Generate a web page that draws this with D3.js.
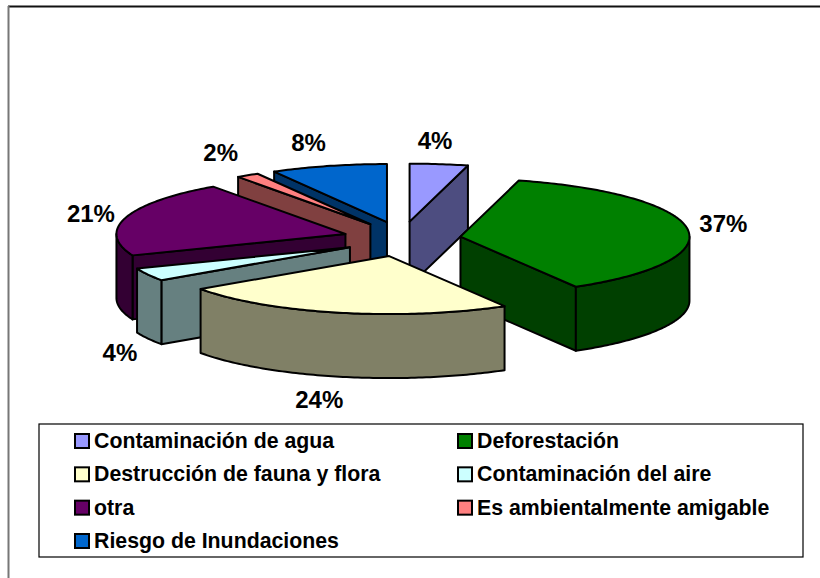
<!DOCTYPE html>
<html>
<head>
<meta charset="utf-8">
<title>Pie</title>
<style>
body { margin: 0; background: white; }
svg { display: block; }
text { font-family: "Liberation Sans", Arial, sans-serif; font-weight: 700; fill: black; }
.face { stroke: black; stroke-width: 2px; stroke-linejoin: round; }
.label { font-size: 24px; text-anchor: middle; dominant-baseline: central; }
.legend-text { font-size: 21.3px; dominant-baseline: central; }
</style>
</head>
<body>
<svg id="chart" width="820" height="578"></svg>
<script src="https://cdn.jsdelivr.net/npm/d3@7"></script>
<script>

var categories = ["Contaminación de agua", "Deforestación", "Destrucción de fauna y flora",
	"Contaminación del aire", "otra", "Es ambientalmente amigable", "Riesgo de Inundaciones"];
var shares = [4.1, 37.49, 23.8, 3.6, 21.2, 1.6, 8.2];
var topColors = ["#9999ff", "#008000", "#ffffcc", "#ccffff", "#660066", "#ff8080", "#0066cc"];

var width = 820, height = 578;
var center = {x: 402, y: 239};
var rx = 229, ry = 58, depth = 64;
var explodeX = 59, explodeY = 17.5;

// back to front, the way the slices overlap
var drawOrder = [0, 6, 5, 1, 4, 3, 2];
// label nudges from the rim of each slice, same order as categories
var labelNudge = [[-4, -24], [36, -5], [-20, 23], [-28, 14], [-35, -4], [-27, -23], [-20, -23]];

var svg = d3.select("#chart");

// the outer frame only shows on the top and the left
svg.append("line")
	.attr("x1", 8).attr("y1", 6.5).attr("x2", width).attr("y2", 6.5)
	.attr("stroke", "#111").attr("stroke-width", 2);
svg.append("line")
	.attr("x1", 8.5).attr("y1", 6).attr("x2", 8.5).attr("y2", height)
	.attr("stroke", "#777").attr("stroke-width", 2);

var pie = d3.pie().sort(null).value(function(d) { return d; });
var slices = pie(shares);

var ex = d3.scaleLinear().domain([0, 1]).range([0, rx]);
var ey = d3.scaleLinear().domain([0, 1]).range([0, ry]);
var line = d3.line();

function rim(a, apex, drop) {
	return [apex.x + ex(Math.sin(a)), apex.y - ey(Math.cos(a)) + drop];
}

function arcPoints(a0, a1, apex, drop) {
	var n = Math.max(2, Math.ceil((a1 - a0) * 60));
	return d3.range(n + 1).map(function(i) {
		return rim(a0 + (a1 - a0) * i / n, apex, drop);
	});
}

function wall(a, apex) {
	return line([[apex.x, apex.y], rim(a, apex, 0), rim(a, apex, depth), [apex.x, apex.y + depth]]) + "Z";
}

var groups = svg.selectAll("g.slice")
	.data(drawOrder.map(function(i) { return slices[i]; }))
	.enter().append("g")
	.attr("class", "slice")
	.each(function(d) {
		var g = d3.select(this);
		var mid = (d.startAngle + d.endAngle) / 2;
		var apex = {x: center.x + explodeX * Math.sin(mid), y: center.y - explodeY * Math.cos(mid)};
		var side = d3.color(topColors[d.index]);
		side = d3.rgb(side.r / 2, side.g / 2, side.b / 2);

		if (Math.sin(d.startAngle) < -1e-6) {
			g.append("path").attr("class", "face").attr("fill", side).attr("d", wall(d.startAngle, apex));
		}
		if (Math.sin(d.endAngle) > 1e-6) {
			g.append("path").attr("class", "face").attr("fill", side).attr("d", wall(d.endAngle, apex));
		}

		// outer wall, only the front half of the ellipse shows
		var a0 = Math.max(d.startAngle, Math.PI / 2), a1 = Math.min(d.endAngle, Math.PI * 3 / 2);
		if (a1 > a0) {
			var upper = arcPoints(a0, a1, apex, 0);
			var lower = arcPoints(a0, a1, apex, depth).reverse();
			g.append("path").attr("class", "face").attr("fill", side).attr("d", line(upper.concat(lower)) + "Z");
		}

		var top = [[apex.x, apex.y]].concat(arcPoints(d.startAngle, d.endAngle, apex, 0));
		g.append("path").attr("class", "face").attr("fill", topColors[d.index]).attr("d", line(top) + "Z");
	});

// percent labels
svg.selectAll("text.label")
	.data(slices)
	.enter().append("text")
	.attr("class", "label")
	.attr("x", function(d) {
		var mid = (d.startAngle + d.endAngle) / 2;
		var apexX = center.x + explodeX * Math.sin(mid);
		return apexX + ex(Math.sin(mid)) + labelNudge[d.index][0];
	})
	.attr("y", function(d) {
		var mid = (d.startAngle + d.endAngle) / 2;
		var apexY = center.y - explodeY * Math.cos(mid);
		var drop = Math.cos(mid) < -0.2 ? depth : 0;
		return apexY - ey(Math.cos(mid)) + drop + labelNudge[d.index][1];
	})
	.text(function(d) { return d3.format(".0f")(d.data) + "%"; });

// legend
var legend = svg.append("g");
legend.append("rect")
	.attr("x", 39).attr("y", 424)
	.attr("width", 764).attr("height", 133)
	.attr("fill", "white").attr("stroke", "black").attr("stroke-width", 1.2);

var colX = d3.scalePoint().domain([0, 1]).range([74, 457]);
var rowY = d3.scalePoint().domain([0, 1, 2, 3]).range([441, 541]);

var items = legend.selectAll("g.item")
	.data(categories)
	.enter().append("g")
	.attr("class", "item")
	.attr("transform", function(d, i) {
		return "translate(" + colX(i % 2) + "," + rowY(Math.floor(i / 2)) + ")";
	});

items.append("rect")
	.attr("x", 1).attr("y", -7)
	.attr("width", 14).attr("height", 14)
	.attr("fill", function(d, i) { return topColors[i]; })
	.attr("stroke", "black").attr("stroke-width", 2);

items.append("text")
	.attr("class", "legend-text")
	.attr("x", 20)
	.text(function(d) { return d; });

</script>
</body>
</html>
